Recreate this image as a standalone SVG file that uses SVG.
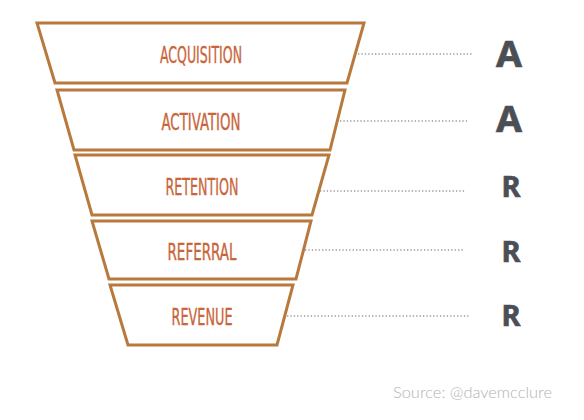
<svg xmlns="http://www.w3.org/2000/svg" width="584" height="420" viewBox="0 0 584 420">
<style>
.stage{fill:#ffffff;stroke:#b8793c;stroke-width:3;stroke-linejoin:miter}
.lbl{font-family:"DejaVu Sans Condensed","Liberation Sans Narrow","Liberation Sans",sans-serif;font-size:23px;fill:#c9653a;stroke:#c9653a;stroke-width:0.35;text-anchor:middle}
.dot{stroke:#9a9a9a;stroke-width:1.3;stroke-dasharray:1.3 2.1;fill:none}
.big{font-family:"Noto Sans","Open Sans",sans-serif;font-weight:bold;fill:#4b4f55;stroke:#4b4f55;stroke-width:0.6;text-anchor:middle}
.src{font-family:Lato,"Open Sans",sans-serif;font-weight:300;font-size:15px;fill:#b3b3b3}
</style>
<rect width="584" height="420" fill="#ffffff"/>
<g id="connectors">
<line class="dot" x1="358" y1="54" x2="472" y2="54"/>
<line class="dot" x1="340" y1="121" x2="467" y2="121"/>
<line class="dot" x1="320" y1="191" x2="466" y2="191"/>
<line class="dot" x1="305" y1="250" x2="464" y2="250"/>
<line class="dot" x1="287" y1="316" x2="470" y2="316"/>
</g>
<g id="acquisition">
<polygon class="stage" points="37,23 364,23 347,83 55,83"/>
<text class="lbl" x="201" y="63" textLength="82" lengthAdjust="spacingAndGlyphs">ACQUISITION</text>
</g>
<g id="activation">
<polygon class="stage" points="57,90 345,90 330,150 74,150"/>
<text class="lbl" x="201" y="130" textLength="79" lengthAdjust="spacingAndGlyphs">ACTIVATION</text>
</g>
<g id="retention">
<polygon class="stage" points="75,155 329,155 312,215 92,215"/>
<text class="lbl" x="202" y="195" textLength="73" lengthAdjust="spacingAndGlyphs">RETENTION</text>
</g>
<g id="referral">
<polygon class="stage" points="92,221 311,221 296,279 109,279"/>
<text class="lbl" x="202" y="260" textLength="69" lengthAdjust="spacingAndGlyphs">REFERRAL</text>
</g>
<g id="revenue">
<polygon class="stage" points="110,285 293,285 277,345 128,345"/>
<text class="lbl" x="202" y="325" textLength="61" lengthAdjust="spacingAndGlyphs">REVENUE</text>
</g>
<g id="letters">
<text class="big" x="509" y="67" font-size="35" textLength="26" lengthAdjust="spacingAndGlyphs">A</text>
<text class="big" x="509" y="132" font-size="35" textLength="26" lengthAdjust="spacingAndGlyphs">A</text>
<text class="big" x="511" y="197" font-size="29">R</text>
<text class="big" x="511" y="262" font-size="29">R</text>
<text class="big" x="511" y="326" font-size="29">R</text>
</g>
<text class="src" x="393" y="398" textLength="159" lengthAdjust="spacingAndGlyphs">Source: @davemcclure</text>
</svg>
